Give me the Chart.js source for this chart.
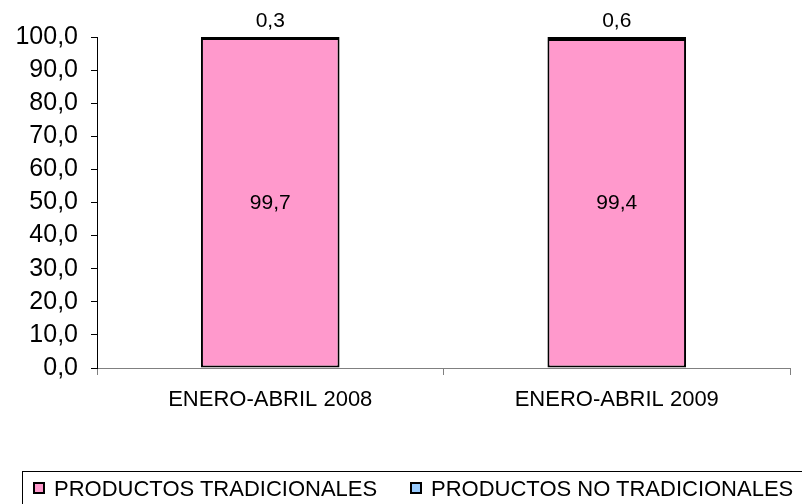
<!DOCTYPE html>
<html>
<head>
<meta charset="utf-8">
<script src="https://cdn.jsdelivr.net/npm/chart.js@4.4.1/dist/chart.umd.min.js"></script>
<style>
  html, body { margin: 0; padding: 0; background: #fff; overflow: hidden; }
  #wrap { position: relative; width: 802px; height: 504px; }
  #legend {
    position: absolute; left: 22px; top: 471px; width: 800px; height: 60px;
    border-left: 1px solid #000; border-top: 1px solid #000;
    font-family: "Liberation Sans", Arial, sans-serif; font-size: 22px; color: #000;
  }
  #legend .item { position: absolute; top: 6px; white-space: nowrap; line-height: 22px; }
  #legend .box {
    display: inline-block; width: 8px; height: 8px; border: 2px solid #000;
    margin-right: 9px; vertical-align: 2px;
  }
</style>
</head>
<body>
<div id="wrap">
  <canvas id="chart" width="802" height="504"></canvas>
  <div id="legend"></div>
</div>
<script>
  'use strict';

  var categories = ['ENERO-ABRIL 2008', 'ENERO-ABRIL 2009'];
  var seriesNames = ['PRODUCTOS TRADICIONALES', 'PRODUCTOS NO TRADICIONALES'];
  var tradicionales = [99.7, 99.4];
  var noTradicionales = [0.3, 0.6];
  var seriesColors = ['#FF99CC', '#99CCFF'];

  function fmt(v) {
    return v.toFixed(1).replace('.', ',');
  }

  // value labels: inside for the big segment, above the bar for the small one
  var valueLabels = {
    id: 'valueLabels',
    afterDatasetsDraw: function(chart) {
      var ctx = chart.ctx;
      ctx.save();
      ctx.fillStyle = '#000';
      ctx.font = '21px "Liberation Sans", Arial, sans-serif';
      ctx.textAlign = 'center';
      ctx.textBaseline = 'middle';
      chart.data.datasets.forEach(function(ds, i) {
        var meta = chart.getDatasetMeta(i);
        meta.data.forEach(function(bar, j) {
          var v = ds.data[j];
          if (i === 0) {
            ctx.fillText(fmt(v), bar.x, (bar.y + bar.base) / 2);
          } else {
            ctx.fillText(fmt(v), bar.x, bar.y - 16);
          }
        });
      });
      ctx.restore();
    }
  };

  var chart = new Chart(document.getElementById('chart'), {
    type: 'bar',
    data: {
      labels: categories,
      datasets: [{
        label: seriesNames[0],
        data: tradicionales,
        backgroundColor: seriesColors[0],
        borderColor: '#000',
        borderWidth: 2,
        borderSkipped: false
      }, {
        label: seriesNames[1],
        data: noTradicionales,
        backgroundColor: seriesColors[1],
        borderColor: '#000',
        borderWidth: 2,
        borderSkipped: false
      }]
    },
    options: {
      responsive: false,
      animation: false,
      layout: { padding: { top: 37, right: 12, left: 0, bottom: 0 } },
      plugins: {
        legend: { display: false },
        tooltip: { enabled: false }
      },
      datasets: {
        bar: { categoryPercentage: 1, barPercentage: 0.4 }
      },
      scales: {
        x: {
          stacked: true,
          afterFit: function(s) { s.height = 136; },
          grid: {
            offset: true,
            drawOnChartArea: false,
            drawTicks: true,
            tickLength: 7,
            color: '#808080'
          },
          border: { color: '#808080', width: 1 },
          ticks: {
            color: '#000',
            padding: 12,
            font: { family: '"Liberation Sans", Arial, sans-serif', size: 22 }
          }
        },
        y: {
          stacked: true,
          min: 0,
          max: 100,
          afterFit: function(s) { s.width = 97; },
          grid: {
            drawOnChartArea: false,
            drawTicks: true,
            tickLength: 6,
            color: '#000'
          },
          border: { color: '#000', width: 1 },
          ticks: {
            stepSize: 10,
            color: '#000',
            padding: 13,
            font: { family: '"Liberation Sans", Arial, sans-serif', size: 25 },
            callback: function(v) { return fmt(v); }
          }
        }
      }
    },
    plugins: [valueLabels]
  });

  var legendPos = [10, 387];
  var html = '';
  for (var i = 0; i < seriesNames.length; i++) {
    html += '<div class="item" style="left:' + legendPos[i] + 'px">' +
      '<span class="box" style="background:' + seriesColors[i] + '"></span>' +
      seriesNames[i] + '</div>';
  }
  document.getElementById('legend').innerHTML = html;
</script>
</body>
</html>
